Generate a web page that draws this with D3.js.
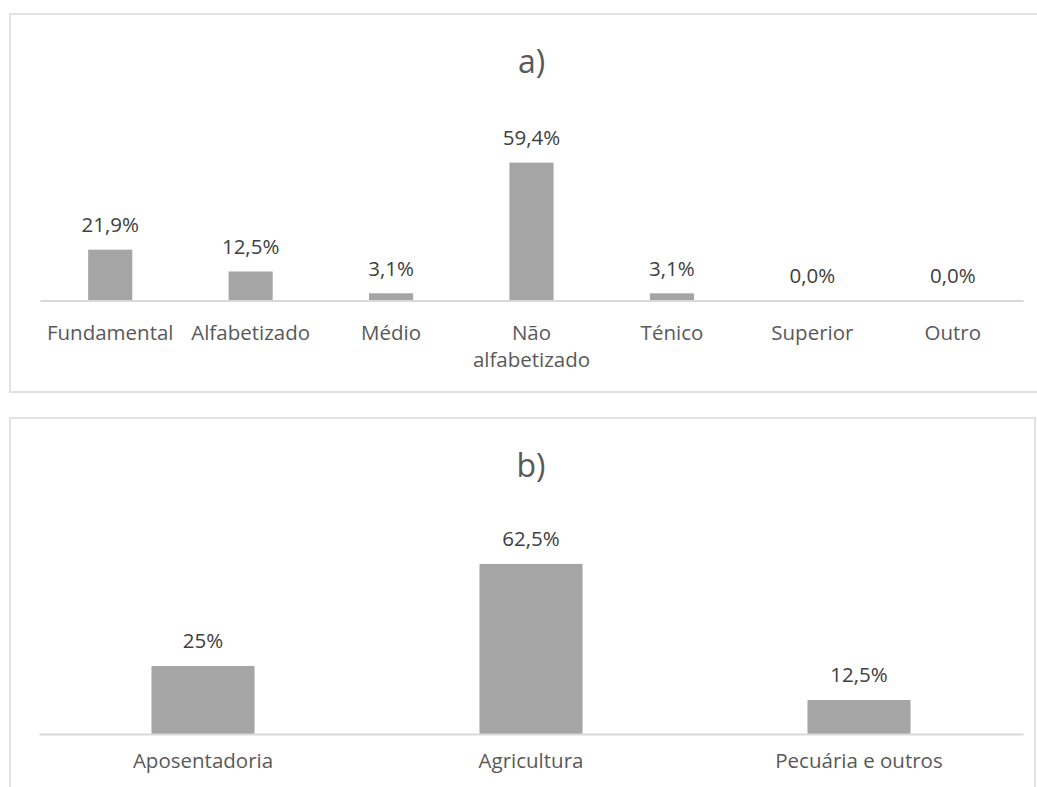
<!DOCTYPE html>
<html>
<head>
<meta charset="utf-8">
<script src="https://cdn.jsdelivr.net/npm/d3@7"></script>
<style>
  body { margin: 0; background: #fff; }
  text { font-family: "Open Sans", sans-serif; }
</style>
</head>
<body>
<div id="chart"></div>
<script>
// Data
const catsA = ["Fundamental", "Alfabetizado", "Médio", "Não alfabetizado", "Ténico", "Superior", "Outro"];
const valsA = [21.9, 12.5, 3.1, 59.4, 3.1, 0.0, 0.0];
const labelsA = ["21,9%", "12,5%", "3,1%", "59,4%", "3,1%", "0,0%", "0,0%"];

const catsB = ["Aposentadoria", "Agricultura", "Pecuária e outros"];
const valsB = [25, 62.5, 12.5];
const labelsB = ["25%", "62,5%", "12,5%"];

const W = 1037, H = 787;
const fs = 20.5;
const svg = d3.select("#chart").append("svg")
  .attr("width", W).attr("height", H);

// panel frames
svg.append("rect").attr("x", 10).attr("y", 14).attr("width", 1040).attr("height", 378)
  .attr("fill", "none").attr("stroke", "#d9d9d9").attr("stroke-width", 1.5);
svg.append("rect").attr("x", 10).attr("y", 418).attr("width", 1025).attr("height", 400)
  .attr("fill", "none").attr("stroke", "#d9d9d9").attr("stroke-width", 1.5);

// wrap long category labels onto several lines
function wrap(sel, width) {
  sel.each(function() {
    const t = d3.select(this);
    const words = t.text().split(/\s+/);
    const y = t.attr("y");
    const first = 0.71 * fs;
    t.text(null).attr("dy", null);
    let line = [];
    let n = 0;
    let ts = t.append("tspan").attr("x", 0).attr("y", y).attr("dy", first + "px");
    words.forEach(w => {
      line.push(w);
      ts.text(line.join(" "));
      if (ts.node().getComputedTextLength() > width && line.length > 1) {
        line.pop();
        ts.text(line.join(" "));
        line = [w];
        n++;
        ts = t.append("tspan").attr("x", 0).attr("y", y)
          .attr("dy", (first + n * 27) + "px").text(w);
      }
    });
  });
}

function panel(opts) {
  const { cats, vals, labels, title, x0, x1, base, top, titleY, tickPad } = opts;
  const x = d3.scaleBand().domain(cats).range([x0, x1]).paddingInner(0.686).paddingOuter(0.343);
  const y = d3.scaleLinear().domain([0, 70]).range([base, top]);

  svg.append("text").attr("x", (x0 + x1) / 2).attr("y", titleY)
    .attr("text-anchor", "middle").attr("fill", "#595959")
    .style("font-size", "32px").text(title);

  svg.selectAll(null).data(vals).enter().append("rect")
    .attr("x", (d, i) => x(cats[i]))
    .attr("width", x.bandwidth())
    .attr("y", d => y(d))
    .attr("height", d => base - y(d))
    .attr("fill", "#a5a5a5");

  const ax = svg.append("g").attr("transform", `translate(0,${base})`)
    .call(d3.axisBottom(x).tickSize(0).tickPadding(tickPad));
  ax.select(".domain").attr("stroke", "#d9d9d9").attr("stroke-width", 2);
  ax.selectAll(".tick text")
    .attr("fill", "#595959")
    .style("font-size", fs + "px")
    .style("font-family", "'Open Sans', sans-serif")
    .call(wrap, x.step() - 2);

  svg.selectAll(null).data(vals).enter().append("text")
    .attr("x", (d, i) => x(cats[i]) + x.bandwidth() / 2)
    .attr("y", d => y(d) - 17.5)
    .attr("text-anchor", "middle")
    .attr("fill", "#404040")
    .style("font-size", fs + "px")
    .text((d, i) => labels[i]);
}

panel({ cats: catsA, vals: valsA, labels: labelsA, title: "a)",
  x0: 40, x1: 1023, base: 300.5, top: 138, titleY: 73, tickPad: 25 });
panel({ cats: catsB, vals: valsB, labels: labelsB, title: "b)",
  x0: 39, x1: 1023, base: 734, top: 543.5, titleY: 477, tickPad: 19 });
</script>
</body>
</html>
